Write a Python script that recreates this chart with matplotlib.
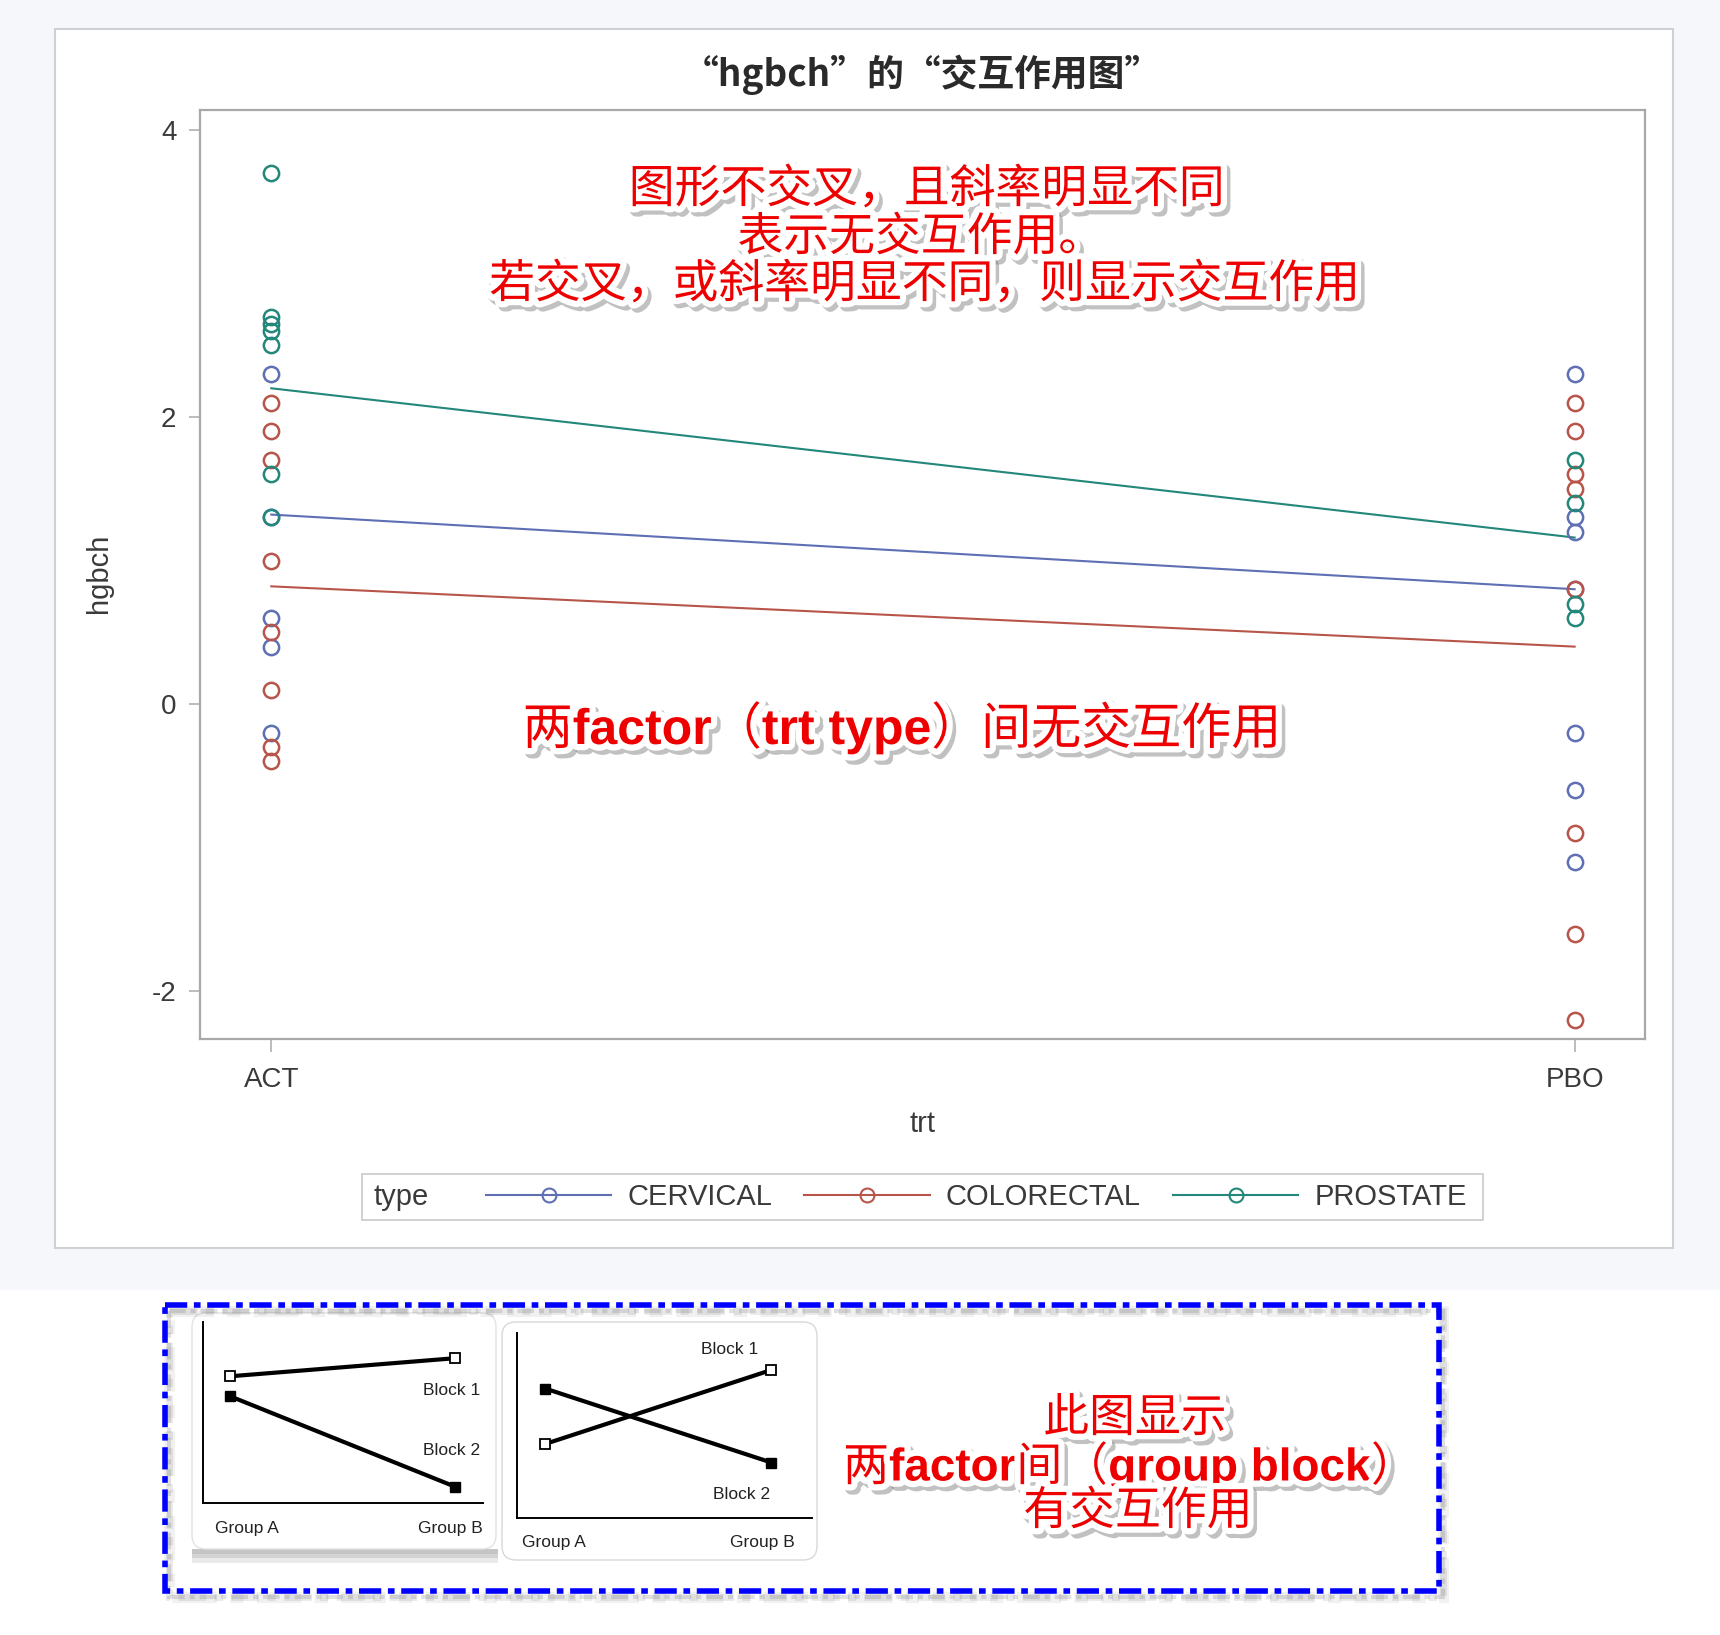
import numpy as np
import matplotlib
matplotlib.use('Agg')
import matplotlib.pyplot as plt
import matplotlib.patheffects as pe
from matplotlib.patches import Rectangle, FancyBboxPatch
from matplotlib.lines import Line2D

# data
trt = ['ACT', 'PBO']
types = ['CERVICAL', 'COLORECTAL', 'PROSTATE']

cervical_act = [2.3, 1.3, 0.6, 0.4, -0.2]
cervical_pbo = [2.3, 1.3, 1.2, 0.8, -0.2, -0.6, -1.1]
colorectal_act = [2.1, 1.9, 1.7, 1.0, 0.5, 0.1, -0.3, -0.4]
colorectal_pbo = [2.1, 1.9, 1.6, 1.5, 0.8, -0.9, -1.6, -2.2]
prostate_act = [3.7, 2.7, 2.65, 2.6, 2.5, 1.6, 1.3]
prostate_pbo = [1.7, 1.4, 0.7, 0.6]

cervical_mean = [1.32, 0.80]
colorectal_mean = [0.82, 0.40]
prostate_mean = [2.20, 1.16]

# little example charts at the bottom
groups = ['Group A', 'Group B']
ex1_block1 = [7.0, 8.0]
ex1_block2 = [5.9, 0.9]
ex2_block1 = [4.0, 8.0]
ex2_block2 = [7.0, 3.0]

colors = ['#5f6fb4', '#b8554b', '#23877a']
points = [(cervical_act, cervical_pbo), (colorectal_act, colorectal_pbo), (prostate_act, prostate_pbo)]
means = [cervical_mean, colorectal_mean, prostate_mean]

CJK = ['Noto Sans CJK SC', 'DejaVu Sans']
LAT = ['Liberation Sans', 'DejaVu Sans']
SAS = ['Liberation Sans', 'Noto Sans CJK SC']
RED = '#ee0000'
GREY = '#3a3a3a'

W, H = 1720, 1635
fig = plt.figure(figsize=(W / 100, H / 100), dpi=100)
fig.patch.set_facecolor('white')


def rect(x0, y0, x1, y1):
    return [x0 / W, 1 - y1 / H, (x1 - x0) / W, (y1 - y0) / H]


def fx(y):
    return 1 - y / H


# background / panels in pixel space
bg = fig.add_axes([0, 0, 1, 1], zorder=0)
bg.set_xlim(0, W)
bg.set_ylim(H, 0)
bg.axis('off')
bg.add_patch(Rectangle((0, 0), W, 1290, fc='#f6f7fb', lw=0))
bg.add_patch(Rectangle((55, 29), 1618, 1219, fc='white', ec='#cdd1d6', lw=1.5))
bg.add_patch(Rectangle((362, 1174), 1121, 46, fc='white', ec='#c9c9c9', lw=1.2))

# example panels
for k, a in [(14, 0.35), (9, 0.6), (5, 0.9)]:
    bg.add_patch(Rectangle((192, 1549), 306, k, fc='#c4c4c4', lw=0, alpha=a))
bg.add_patch(FancyBboxPatch((192, 1313), 304, 236, boxstyle='round,pad=0,rounding_size=14',
                            fc='white', ec='#e2e2e2', lw=1))
bg.add_patch(FancyBboxPatch((502, 1322), 315, 238, boxstyle='round,pad=0,rounding_size=14',
                            fc='white', ec='#d8d8d8', lw=1))
# blue dash-dot frame with soft shadow
for k, a in [(8, 0.08), (5, 0.12), (3, 0.18)]:
    bg.add_patch(Rectangle((165 + 4, 1305 + 6), 1274, 286, fill=False, ec='#555555',
                           lw=k, alpha=a, linestyle=(0, (4, 1.2, 1.2, 1.2))))
bg.add_patch(Rectangle((165, 1305), 1274, 286, fill=False, ec='#0000ff', lw=4,
                       linestyle=(0, (4, 1.2, 1.2, 1.2))))

# main interaction plot
ax = fig.add_axes(rect(200, 110, 1645, 1039), zorder=1)
for (act, pbo), m, c in zip(points, means, colors):
    ax.plot([0, 1], m, color=c, lw=1.5, zorder=2)
    ax.plot(np.zeros(len(act)), act, ls='none', marker='o', mfc='none', mec=c, ms=11, mew=1.8, zorder=3)
    ax.plot(np.ones(len(pbo)), pbo, ls='none', marker='o', mfc='none', mec=c, ms=11, mew=1.8, zorder=3)

ax.set_xlim(-0.0547, 1.054)
ax.set_ylim(-2.334, 4.139)
ax.set_yticks([-2, 0, 2, 4])
ax.set_yticklabels(['-2', '0', '2', '4'], family=SAS)
ax.set_xticks([0, 1])
ax.set_xticklabels(trt, family=SAS)
for s in ax.spines.values():
    s.set_color('#a8a8a8')
    s.set_linewidth(1.6)
ax.tick_params(axis='y', length=8, width=1.2, color='#b0b0b0', pad=9, labelsize=20, labelcolor=GREY)
ax.tick_params(axis='x', length=9, width=1.2, color='#b0b0b0', pad=11, labelsize=20, labelcolor=GREY)

fig.text(922 / W, fx(75), '“hgbch”的“交互作用图”', ha='center', va='center', fontsize=26.5,
         fontweight='bold', color='#2a2a2a', family=CJK)
fig.text(99 / W, fx(573), 'hgbch', ha='center', va='center', rotation=90, fontsize=21,
         color=GREY, family=SAS)
fig.text(922 / W, fx(1124), 'trt', ha='center', va='center', fontsize=21, color=GREY, family=SAS)

# legend
fig.text(373 / W, fx(1197), 'type', ha='left', va='center', fontsize=21, color=GREY, family=SAS)
handles = [Line2D([], [], color=c, lw=1.5, marker='o', mfc='none', mec=c, ms=10, mew=1.5) for c in colors]
fig.legend(handles, types, ncol=3, frameon=False, loc='center left',
           bbox_to_anchor=(486 / W, fx(1197)), handlelength=4.3, handletextpad=0.55,
           columnspacing=1.1, borderpad=0, borderaxespad=0,
           prop={'family': SAS, 'size': 21}, labelcolor=GREY)

# red remarks with white outline and grey shadow
glow = [pe.Stroke(linewidth=9, foreground='#777777', alpha=0.45, offset=(2.5, -3)),
        pe.Stroke(linewidth=9, foreground='white'), pe.Normal()]


def mixed(cx, cy, parts, size):
    texts = []
    base = cy + 0.36 * size * 100 / 72
    for s, w in parts:
        fam = LAT if w == 'bold' else CJK
        t = fig.text(0, fx(base), s, fontsize=size, fontweight=w, color=RED, family=fam,
                     ha='left', va='baseline', path_effects=glow, zorder=5)
        texts.append(t)
    r = fig.canvas.get_renderer()
    widths = [t.get_window_extent(r).width for t in texts]
    x = cx - sum(widths) / 2
    for t, w in zip(texts, widths):
        t.set_x(x / W)
        x += w


mixed(927, 186, [('图形不交叉，且斜率明显不同', 'normal')], 33)
mixed(921, 234, [('表示无交互作用。', 'normal')], 33)
mixed(925, 281, [('若交叉，或斜率明显不同，则显示交互作用', 'normal')], 33)
mixed(902, 726, [('两', 'normal'), ('factor', 'bold'), ('（', 'normal'), ('trt type', 'bold'),
                 ('）', 'normal'), ('间无交互作用', 'normal')], 36)
mixed(1135, 1415, [('此图显示', 'normal')], 33)
mixed(1130, 1464, [('两', 'normal'), ('factor', 'bold'), ('间（', 'normal'), ('group block', 'bold'),
                   ('）', 'normal')], 33)
mixed(1138, 1508, [('有交互作用', 'normal')], 33)

# example charts
ex_axes = [(rect(203, 1322, 483, 1503), (-0.12, 1.124), ex1_block1, ex1_block2),
           (rect(517, 1333, 812, 1518), (-0.124, 1.18), ex2_block1, ex2_block2)]
for r_, xl, b1, b2 in ex_axes:
    a = fig.add_axes(r_, zorder=2)
    a.set_facecolor('none')
    a.plot([0, 1], b1, color='black', lw=3, marker='s', ms=7, mfc='white', mec='black', mew=1.3)
    a.plot([0, 1], b2, color='black', lw=3, marker='s', ms=7, mfc='black', mec='black')
    a.set_xlim(*xl)
    a.set_ylim(0, 10)
    a.set_xticks([])
    a.set_yticks([])
    for side in ['top', 'right']:
        a.spines[side].set_visible(False)
    for side in ['left', 'bottom']:
        a.spines[side].set_linewidth(1.4)

small = dict(fontsize=12.5, color='#222222', family=SAS, ha='center', va='center')
fig.text(452 / W, fx(1390), 'Block 1', **small)
fig.text(452 / W, fx(1450), 'Block 2', **small)
fig.text(247 / W, fx(1528), groups[0], **small)
fig.text(450 / W, fx(1528), groups[1], **small)
fig.text(730 / W, fx(1349), 'Block 1', **small)
fig.text(742 / W, fx(1494), 'Block 2', **small)
fig.text(554 / W, fx(1542), groups[0], **small)
fig.text(762 / W, fx(1542), groups[1], **small)

fig.savefig('out.png', dpi=100)
